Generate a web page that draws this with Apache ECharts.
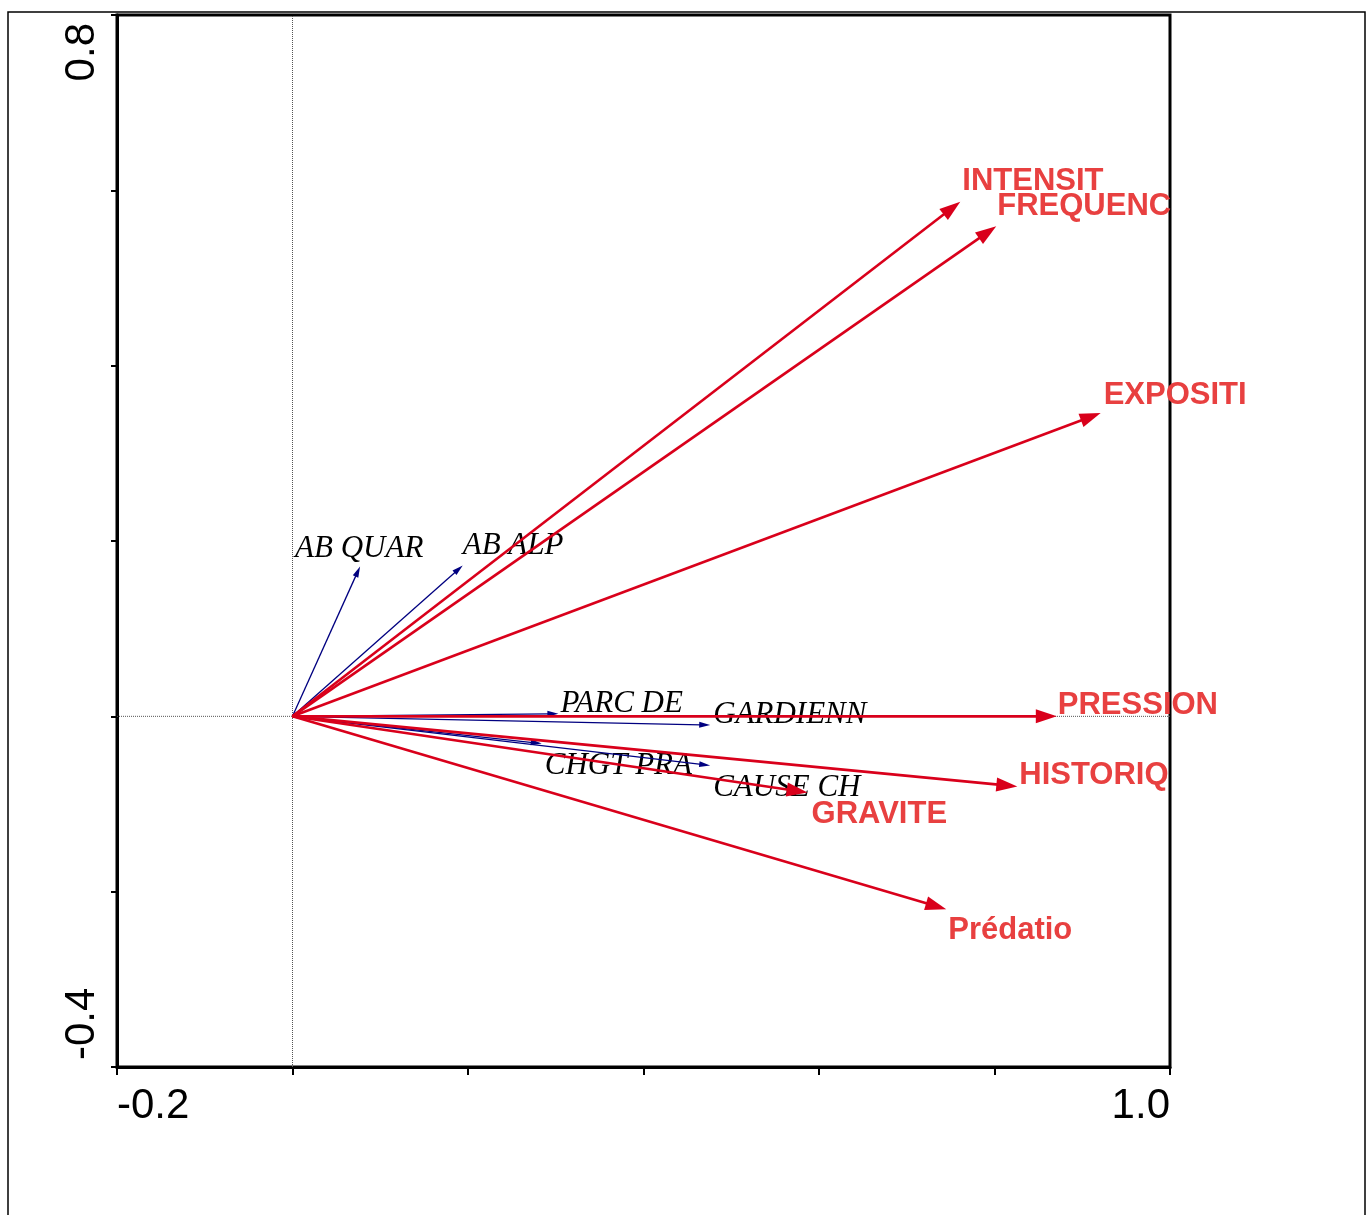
<!DOCTYPE html>
<html><head><meta charset="utf-8">
<script src="https://cdn.jsdelivr.net/npm/echarts@6/dist/echarts.min.js"></script>
<style>html,body{margin:0;padding:0;background:#fff}#c{width:1372px;height:1215px}</style>
</head><body><div id="c"></div>
<script>
// Environmental variables (red arrows)
const envNames = ['INTENSIT', 'FREQUENC', 'EXPOSITI', 'PRESSION', 'HISTORIQ', 'GRAVITE', 'Prédatio'];
const envX = [0.761, 0.802, 0.921, 0.871, 0.826, 0.587, 0.745];
const envY = [0.587, 0.559, 0.346, 0.000, -0.080, -0.087, -0.220];
// Response variables (blue arrows)
const spNames = ['AB QUAR', 'AB ALP', 'PARC DE', 'GARDIENN', 'CHGT PRA', 'CAUSE CH'];
const spX = [0.077, 0.194, 0.303, 0.476, 0.284, 0.476];
const spY = [0.171, 0.172, 0.003, -0.010, -0.031, -0.056];
// Labeled ticks
const xTickLabels = [-0.2, 1.0];
const yTickLabels = [-0.4, 0.8];

// label placement (pixel offsets from arrow tip) – styling only
const labelOffsets = {
  'INTENSIT': [2, -20], 'FREQUENC': [1, -20], 'EXPOSITI': [3, -18], 'PRESSION': [1, -11],
  'HISTORIQ': [2, -11], 'GRAVITE': [4, 22], 'Prédatio': [2, 21],
  'AB QUAR': [-65, -18], 'AB ALP': [0, -20], 'PARC DE': [2, -10], 'GARDIENN': [3, -10],
  'CHGT PRA': [3, 22], 'CAUSE CH': [3, 22]
};

const chart = echarts.init(document.getElementById('c'), null, { renderer: 'canvas' });

function arrowRenderer(names, st) {
  return function (params, api) {
    const i = params.dataIndex;
    const o = api.coord([0, 0]);
    const p = api.coord([api.value(0), api.value(1)]);
    const dx = p[0] - o[0], dy = p[1] - o[1];
    const len = Math.hypot(dx, dy) || 1;
    const ux = dx / len, uy = dy / len;
    const bx = p[0] - ux * st.headLen, by = p[1] - uy * st.headLen;
    const nx = -uy, ny = ux, hw = st.headW / 2;
    const off = labelOffsets[names[i]] || [0, 0];
    return {
      type: 'group',
      children: [
        { type: 'line', shape: { x1: o[0], y1: o[1], x2: bx + ux * 2, y2: by + uy * 2 },
          style: { stroke: st.color, lineWidth: st.width } },
        { type: 'polygon', shape: { points: [[p[0], p[1]], [bx + nx * hw, by + ny * hw], [bx - nx * hw, by - ny * hw]] },
          style: { fill: st.color } },
        { type: 'text', x: p[0] + off[0], y: p[1] + off[1],
          style: { text: names[i], font: st.font, fill: st.textColor, align: 'left', verticalAlign: 'middle' } }
      ]
    };
  };
}

function isTick(v, list) { return list.some(t => Math.abs(t - v) < 1e-9); }

const option = {
  backgroundColor: '#fff',
  animation: false,
  graphic: [
    { type: 'rect', shape: { x: 8, y: 12, width: 1357, height: 1220 },
      style: { fill: 'none', stroke: '#000', lineWidth: 1.5 }, z: -10 }
  ],
  grid: { left: 117, top: 15, width: 1053, height: 1052, show: true, borderColor: '#000', borderWidth: 3, backgroundColor: 'transparent' },
  xAxis: {
    type: 'value', min: -0.2, max: 1.0, interval: 0.2,
    splitLine: { show: false },
    axisLine: { show: true, onZero: false, lineStyle: { color: '#000', width: 3 } },
    axisTick: { show: true, inside: false, length: 8, lineStyle: { color: '#000', width: 2 } },
    axisLabel: {
      show: true, margin: 18, color: '#000', fontSize: 42, fontFamily: 'Liberation Sans, Arial, sans-serif',
      alignMinLabel: 'left', alignMaxLabel: 'right',
      formatter: v => isTick(v, xTickLabels) ? v.toFixed(1) : ''
    }
  },
  yAxis: {
    type: 'value', min: -0.4, max: 0.8, interval: 0.2,
    splitLine: { show: false },
    axisLine: { show: true, onZero: false, lineStyle: { color: '#000', width: 3 } },
    axisTick: { show: true, inside: false, length: 6, lineStyle: { color: '#000', width: 2 } },
    axisLabel: {
      show: true, margin: 14, rotate: 90, color: '#000', fontSize: 42, fontFamily: 'Liberation Sans, Arial, sans-serif',
      alignMinLabel: 'left', alignMaxLabel: 'right', padding: [0, 8, 0, 7],
      formatter: v => isTick(v, yTickLabels) ? v.toFixed(1) : ''
    }
  },
  series: [
    {
      type: 'custom', name: 'zero', clip: false, silent: true,
      data: [[0, 0]],
      renderItem: function (params, api) {
        const a = api.coord([0, -0.4]), b = api.coord([0, 0.8]);
        const c = api.coord([-0.2, 0]), d = api.coord([1.0, 0]);
        const ls = { stroke: '#555', lineWidth: 1, lineDash: [1, 1] };
        return { type: 'group', children: [
          { type: 'line', shape: { x1: a[0], y1: a[1], x2: b[0], y2: b[1] }, style: ls },
          { type: 'line', shape: { x1: c[0], y1: c[1], x2: d[0], y2: d[1] }, style: ls }
        ] };
      }
    },
    {
      type: 'custom', name: 'species', clip: false, silent: true,
      data: spX.map((x, i) => [x, spY[i]]),
      encode: { x: 0, y: 1 },
      renderItem: arrowRenderer(spNames, {
        color: '#000080', width: 1.3, headLen: 11, headW: 6,
        font: 'italic 31px "Liberation Serif", "Times New Roman", serif', textColor: '#000'
      })
    },
    {
      type: 'custom', name: 'env', clip: false, silent: true,
      data: envX.map((x, i) => [x, envY[i]]),
      encode: { x: 0, y: 1 },
      renderItem: arrowRenderer(envNames, {
        color: '#d9001b', width: 2.6, headLen: 21, headW: 14,
        font: 'bold 31px "Liberation Sans", Arial, sans-serif', textColor: '#e84040'
      })
    }
  ]
};
chart.setOption(option);
</script>
</body></html>
